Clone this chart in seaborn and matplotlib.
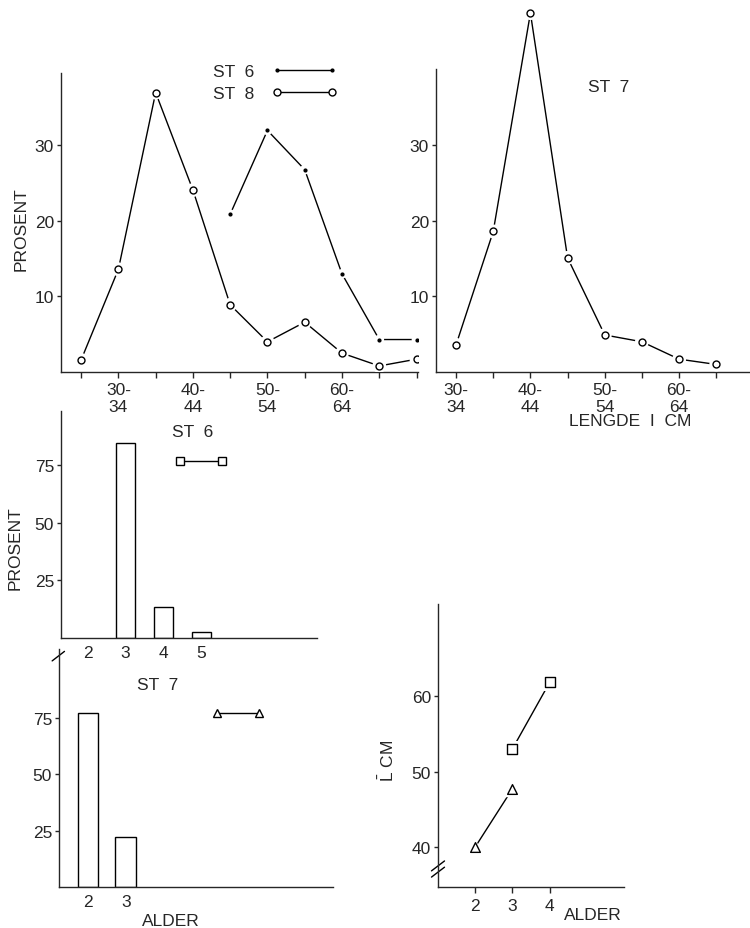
import matplotlib
matplotlib.use("Agg")
import matplotlib.pyplot as plt
import seaborn as sns
from matplotlib.lines import Line2D

sns.set_style("ticks")
plt.rcParams["font.family"] = ["Liberation Sans", "DejaVu Sans"]
plt.rcParams["mathtext.fontset"] = "custom"
plt.rcParams["mathtext.rm"] = "Liberation Sans"
plt.rcParams["font.size"] = 12.5
plt.rcParams["axes.linewidth"] = 1

# length distributions (lower bound of 5 cm class)
st8_len = [25, 30, 35, 40, 45, 50, 55, 60, 65, 70]
st8_pct = [1.6, 13.6, 37.0, 24.1, 8.9, 4.0, 6.6, 2.5, 0.8, 1.7]
st6_len = [45, 50, 55, 60, 65, 70]
st6_pct = [20.9, 32.0, 26.8, 13.0, 4.3, 4.3]
st7_len = [30, 35, 40, 45, 50, 55, 60, 65]
st7_pct = [3.6, 18.6, 47.5, 15.1, 4.9, 4.0, 1.7, 1.0]

len_label_pos = [30, 40, 50, 60]
len_labels = ["30-\n34", "40-\n44", "50-\n54", "60-\n64"]

# age distributions
st6_age = [3, 4, 5]
st6_age_pct = [84.5, 13.4, 2.6]
st7_age = [2, 3]
st7_age_pct = [77.0, 22.0]

# mean length at age
st7_mean_age = [2, 3]
st7_mean_len = [40.0, 47.7]
st6_mean_age = [3, 4]
st6_mean_len = [53.0, 61.8]

W, H = 750, 929
fig = plt.figure(figsize=(W / 100, H / 100), dpi=100)


def rect(l, t, r, b):
    return [l / W, 1 - b / H, (r - l) / W, (b - t) / H]


def fig_xy(x, y):
    return (x / W, 1 - y / H)


def line_with_markers(ax, x, y, marker, ms, filled=False):
    # line first, then a white halo so the line stops short of each marker
    sns.lineplot(x=x, y=y, ax=ax, color="black", lw=1)
    sns.scatterplot(x=x, y=y, ax=ax, marker=marker, s=(ms + 5) ** 2,
                    color="white", edgecolor="none", zorder=3)
    sns.scatterplot(x=x, y=y, ax=ax, marker=marker, s=ms ** 2,
                    color="black" if filled else "white",
                    edgecolor="black", linewidth=1, zorder=4)


def len_ticks(ax, lo, hi):
    pos = list(range(lo, hi + 1, 5))
    ax.set_xticks(pos)
    ax.set_xticklabels([len_labels[len_label_pos.index(p)] if p in len_label_pos else ""
                        for p in pos])
    ax.tick_params(axis="x", direction="out", length=4, width=1, pad=3)
    ax.set_yticks([10, 20, 30])
    ax.tick_params(axis="y", direction="out", length=3, width=1, pad=2)


# 1. ST 6 / ST 8 length distribution
ax1 = fig.add_axes(rect(61, 74, 418, 373))
line_with_markers(ax1, st8_len, st8_pct, "o", 5)
line_with_markers(ax1, st6_len, st6_pct, "o", 2, filled=True)
ax1.set_xlim(22.3, 70.2)
ax1.set_ylim(0, 39.6)
len_ticks(ax1, 25, 70)
ax1.set_xlabel("")
ax1.set_ylabel("PROSENT")
ax1.yaxis.set_label_coords(-0.09, 0.48)
handles = [
    Line2D([], [], color="black", lw=1, marker="o", ms=2, mfc="black", mec="black"),
    Line2D([], [], color="black", lw=1, marker="o", ms=5, mfc="white", mec="black"),
]
ax1.legend(handles, ["ST  6", "ST  8"], numpoints=2, markerfirst=False,
           frameon=False, handlelength=3.8, handletextpad=1.0, borderpad=0,
           labelspacing=0.4, loc="upper left",
           bbox_to_anchor=fig_xy(204, 56), bbox_transform=fig.transFigure)

# 2. ST 7 length distribution
ax2 = fig.add_axes(rect(436, 70, 749, 373))
line_with_markers(ax2, st7_len, st7_pct, "o", 5)
ax2.set_xlim(27.3, 69.4)
ax2.set_ylim(0, 40.1)
len_ticks(ax2, 30, 65)
ax2.set_xlabel("LENGDE  I  CM")
ax2.xaxis.set_label_coords(0.62, -0.135)
ax2.set_ylabel("")
fig.text(*fig_xy(588, 87), "ST  7", va="center")
for art in ax2.lines + ax2.collections:
    art.set_clip_on(False)

# 3. ST 6 age distribution
ax3 = fig.add_axes(rect(61, 412, 317, 639))
sns.barplot(x=st6_age, y=st6_age_pct, native_scale=True, width=0.5,
            color="white", saturation=1, edgecolor="black", linewidth=1,
            errorbar=None, ax=ax3)
ax3.set_xlim(1.3, 8.05)
ax3.set_ylim(0, 98.3)
ax3.set_xticks([2, 3, 4, 5])
ax3.set_xticklabels(["2", "3", "4", "5"])
ax3.set_yticks([25, 50, 75])
ax3.tick_params(axis="x", length=0, pad=5)
ax3.tick_params(axis="y", direction="out", length=3, width=1, pad=2)
ax3.set_ylabel("PROSENT")
ax3.yaxis.set_label_coords(-0.15, 0.40)
fig.text(*fig_xy(172, 433), "ST  6", va="center")
ax3.legend([Line2D([], [], color="black", lw=1, marker="s", ms=6, mfc="white", mec="black")],
           [""], numpoints=2, frameon=False, handlelength=3.0, handletextpad=0,
           borderpad=0, loc="center left",
           bbox_to_anchor=fig_xy(166, 463), bbox_transform=fig.transFigure)

# 4. ST 7 age distribution
ax4 = fig.add_axes(rect(59, 650, 333, 888))
sns.barplot(x=st7_age, y=st7_age_pct, native_scale=True, width=0.55,
            color="white", saturation=1, edgecolor="black", linewidth=1,
            errorbar=None, ax=ax4)
ax4.set_xlim(1.23, 8.5)
ax4.set_ylim(0, 105.6)
ax4.set_xticks([2, 3])
ax4.set_xticklabels(["2", "3"])
ax4.set_yticks([25, 50, 75])
ax4.tick_params(axis="x", length=0, pad=5)
ax4.tick_params(axis="y", direction="out", length=3, width=1, pad=2)
ax4.set_xlabel("ALDER")
ax4.xaxis.set_label_coords(0.41, -0.11)
fig.text(*fig_xy(137, 686), "ST  7", va="center")
ax4.legend([Line2D([], [], color="black", lw=1, marker="^", ms=6, mfc="white", mec="black")],
           [""], numpoints=2, frameon=False, handlelength=3.0, handletextpad=0,
           borderpad=0, loc="center left",
           bbox_to_anchor=fig_xy(203, 715), bbox_transform=fig.transFigure)
# axis break mark between the two age panels
ax4.plot([-0.025, 0.02], [0.95, 0.99], transform=ax4.transAxes,
         color="black", lw=1, clip_on=False)

# 5. mean length at age
ax5 = fig.add_axes(rect(438, 605, 624, 888))
line_with_markers(ax5, st7_mean_age, st7_mean_len, "^", 7)
line_with_markers(ax5, st6_mean_age, st6_mean_len, "s", 7)
ax5.set_xlim(1, 6)
ax5.set_ylim(34.7, 72.2)
ax5.set_xticks([2, 3, 4])
ax5.set_yticks([40, 50, 60])
ax5.tick_params(axis="x", direction="out", length=4, width=1, pad=4)
ax5.tick_params(axis="y", direction="out", length=3, width=1, pad=2)
ax5.set_xlabel("ALDER")
ax5.xaxis.set_label_coords(0.83, -0.07)
ax5.set_ylabel(r"$\bar{\mathrm{L}}$ CM")
ax5.yaxis.set_label_coords(-0.22, 0.45)
for dy in (0.0, 0.022):
    ax5.plot([-0.035, 0.035], [0.035 + dy, 0.07 + dy], transform=ax5.transAxes,
             color="black", lw=1, clip_on=False)

for ax in (ax1, ax2, ax3, ax4, ax5):
    sns.despine(ax=ax)
    ax.patch.set_alpha(0)

fig.savefig("out.png", dpi=100, facecolor="white")
